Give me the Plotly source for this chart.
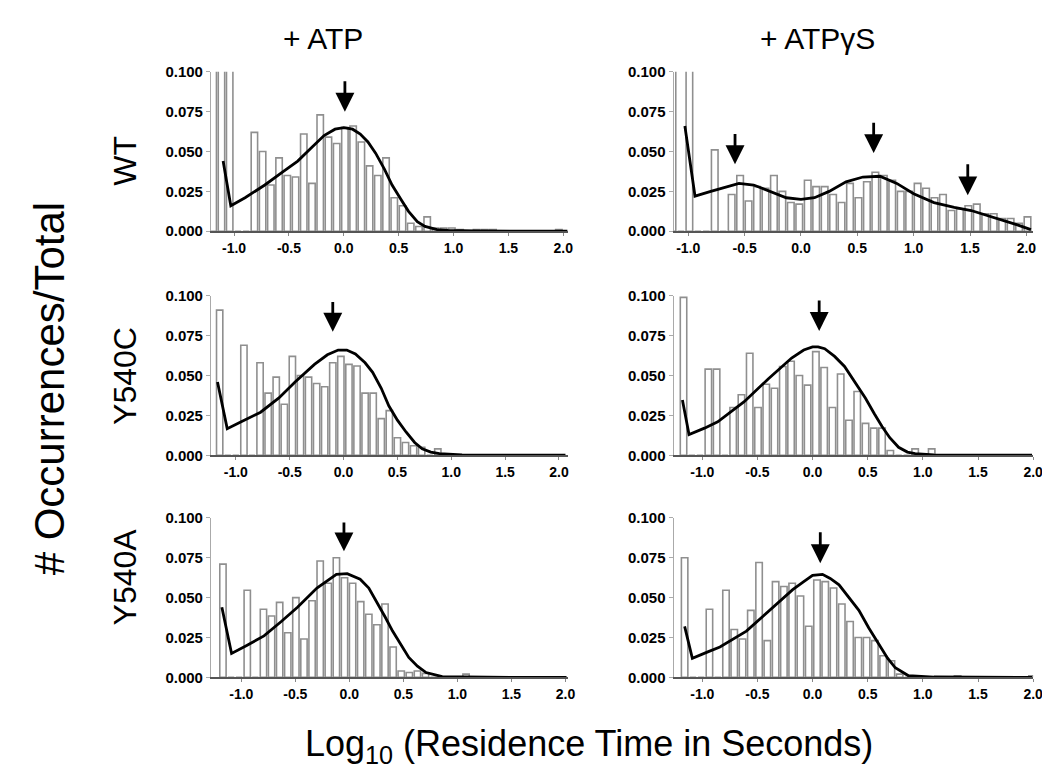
import plotly.graph_objects as go

# ---------------- data ----------------
bin_width = 0.075
panel_ids = ["A", "B", "C", "D", "E", "F"]   # A=WT/ATP, B=WT/ATPgS, C=Y540C/ATP, D=Y540C/ATPgS, E=Y540A/ATP, F=Y540A/ATPgS

bin_start = {"A": -1.19, "B": -1.14, "C": -1.15, "D": -1.17, "E": -1.17, "F": -1.16}

bars_A = [0.12, 0.12, 0.12, 0, 0,
          0.062, 0.050, 0.029, 0.046, 0.035, 0.034, 0.061, 0.030, 0.073, 0.059,
          0.055, 0.065, 0.066, 0.056, 0.041, 0.035, 0.046, 0.021, 0.016,
          0.005, 0.003, 0.009, 0.002, 0.002, 0.002, 0.001, 0, 0.001, 0.001, 0.001,
          0, 0, 0, 0, 0, 0, 0, 0.001]
bars_B = [0.12, 0, 0.12, 0, 0, 0.051, 0, 0.023, 0.035, 0.019, 0.028, 0.027, 0.035,
          0.025, 0.018, 0.017, 0.032, 0.028, 0.028, 0.023, 0.018, 0.030, 0.021,
          0.031, 0.037, 0.035, 0.032, 0.025, 0.025, 0.030, 0.027, 0.021, 0.023,
          0.013, 0.014, 0.016, 0.017, 0.011, 0.011, 0.008, 0.008, 0.005, 0.009]
bars_C = [0.091, 0, 0, 0.069, 0, 0.058, 0.039, 0.049, 0.032, 0.062, 0.050, 0.049,
          0.045, 0.043, 0.058, 0.062, 0.057, 0.056, 0.039, 0.039, 0.023, 0.028,
          0.011, 0.008, 0.006, 0.005, 0, 0.004]
bars_D = [0.099, 0, 0, 0.054, 0.054, 0, 0.030, 0.038, 0.064, 0.030, 0.0445, 0.042,
          0.0557, 0.059, 0.050, 0.044, 0.065, 0.055, 0.030, 0.051, 0.022, 0.040,
          0.020, 0.017, 0.017, 0.003, 0, 0, 0.004, 0, 0.004]
bars_E = [0.071, 0, 0, 0.0546, 0, 0.0427, 0.0385, 0.047, 0.028, 0.050, 0.024, 0.048,
          0.073, 0.059, 0.075, 0.0625, 0.059, 0.0475, 0.0396, 0.033, 0.046, 0.019,
          0.004, 0.003, 0.004, 0.0025, 0, 0, 0, 0, 0.002]
bars_F = [0.075, 0, 0, 0.0427, 0, 0.0546, 0.030, 0.024, 0.042, 0.072, 0.023, 0.060,
          0.057, 0.059, 0.051, 0.032, 0.061, 0.060, 0.056, 0.046, 0.035, 0.025,
          0.025, 0.023, 0.0135, 0.0104, 0.002, 0, 0, 0, 0, 0, 0, 0.001,
          0, 0, 0, 0, 0, 0, 0, 0, 0.001]

fit_x_A = [-1.10, -1.03, -0.9, -0.72, -0.55, -0.42, -0.3, -0.18, -0.08, 0.0, 0.08, 0.15,
           0.22, 0.29, 0.37, 0.44, 0.52, 0.59, 0.67, 0.74, 0.85, 0.95, 1.2, 1.6, 2.04]
fit_y_A = [0.044, 0.016, 0.021, 0.029, 0.0375, 0.044, 0.052, 0.060, 0.064, 0.065, 0.064,
           0.061, 0.056, 0.049, 0.039, 0.029, 0.020, 0.0125, 0.006, 0.003, 0.001, 0.0005,
           0.0002, 0.0, 0.0]
fit_x_B = [-1.03, -0.94, -0.8, -0.65, -0.55, -0.42, -0.28, -0.13, 0.0, 0.12, 0.25, 0.4,
           0.55, 0.7, 0.85, 1.0, 1.18, 1.36, 1.51, 1.65, 1.8, 1.92, 2.04]
fit_y_B = [0.066, 0.022, 0.025, 0.028, 0.030, 0.029, 0.025, 0.021, 0.020, 0.021, 0.025,
           0.031, 0.034, 0.0345, 0.030, 0.0235, 0.018, 0.015, 0.013, 0.010, 0.007, 0.004,
           0.001]
fit_x_C = [-1.17, -1.08, -0.95, -0.77, -0.6, -0.45, -0.27, -0.15, -0.05, 0.03, 0.11, 0.2,
           0.27, 0.35, 0.42, 0.5, 0.58, 0.66, 0.73, 0.81, 0.89, 1.1, 1.5, 2.06]
fit_y_C = [0.046, 0.0167, 0.021, 0.027, 0.036, 0.046, 0.057, 0.063, 0.066, 0.066, 0.0635,
           0.058, 0.052, 0.042, 0.031, 0.022, 0.0146, 0.008, 0.004, 0.002, 0.001, 0.0003,
           0.0, 0.0]
fit_x_D = [-1.18, -1.12, -0.98, -0.86, -0.62, -0.4, -0.19, -0.08, 0.0, 0.05, 0.11, 0.2,
           0.29, 0.38, 0.48, 0.56, 0.63, 0.7, 0.78, 0.86, 0.93, 1.1, 1.5, 1.99]
fit_y_D = [0.0347, 0.013, 0.017, 0.021, 0.0336, 0.048, 0.061, 0.066, 0.068, 0.068, 0.0668,
           0.062, 0.0557, 0.046, 0.0357, 0.026, 0.018, 0.011, 0.005, 0.002, 0.001, 0.0002,
           0.0, 0.0]
fit_x_E = [-1.18, -1.09, -0.95, -0.79, -0.63, -0.48, -0.3, -0.2, -0.12, -0.02, 0.1, 0.18,
           0.25, 0.33, 0.4, 0.48, 0.55, 0.63, 0.71, 0.86, 1.1, 1.5, 2.01]
fit_y_E = [0.044, 0.015, 0.020, 0.026, 0.035, 0.044, 0.056, 0.061, 0.0646, 0.065, 0.0615,
           0.056, 0.048, 0.038, 0.029, 0.020, 0.0125, 0.007, 0.003, 0.0004, 0.0001, 0.0, 0.0]
fit_x_F = [-1.16, -1.09, -0.95, -0.84, -0.6, -0.39, -0.18, -0.08, 0.0, 0.09, 0.16, 0.24,
           0.33, 0.42, 0.51, 0.6, 0.68, 0.75, 0.87, 1.1, 1.5, 1.99]
fit_y_F = [0.032, 0.012, 0.016, 0.019, 0.029, 0.042, 0.055, 0.060, 0.064, 0.0646, 0.062,
           0.058, 0.050, 0.042, 0.031, 0.021, 0.012, 0.006, 0.001, 0.0002, 0.0, 0.0]

# arrows: (x, tip y, tail y)
arrows = {
    "A": [(0.01, 0.075, 0.095)],
    "B": [(-0.585, 0.042, 0.062), (0.645, 0.049, 0.069), (1.48, 0.0225, 0.043)],
    "C": [(-0.10, 0.0775, 0.097)],
    "D": [(0.06, 0.078, 0.098)],
    "E": [(-0.05, 0.079, 0.098)],
    "F": [(0.07, 0.0716, 0.092)],
}

x_ranges = {"A": [-1.21, 2.04], "B": [-1.13, 2.06], "C": [-1.23, 2.08],
            "D": [-1.26, 2.0], "E": [-1.28, 2.02], "F": [-1.26, 2.0]}

x_ticks = [-1.0, -0.5, 0.0, 0.5, 1.0, 1.5, 2.0]
x_tick_text = ["-1.0", "-0.5", "0.0", "0.5", "1.0", "1.5", "2.0"]
y_ticks = [0.0, 0.025, 0.05, 0.075, 0.1]
y_tick_text = ["0.000", "0.025", "0.050", "0.075", "0.100"]

col_titles = ["+ ATP", "+ ATPγS"]
row_labels = ["WT", "Y540C", "Y540A"]
y_title = "# Occurrences/Total"
x_title = "Log<sub>10</sub> (Residence Time in Seconds)"

bars = {"A": bars_A, "B": bars_B, "C": bars_C, "D": bars_D, "E": bars_E, "F": bars_F}
fits = {"A": (fit_x_A, fit_y_A), "B": (fit_x_B, fit_y_B), "C": (fit_x_C, fit_y_C),
        "D": (fit_x_D, fit_y_D), "E": (fit_x_E, fit_y_E), "F": (fit_x_F, fit_y_F)}

# ---------------- layout geometry ----------------
W, H = 1050, 783
col_px = [(205, 565), (672, 1035)]
row_px = [(56, 219), (285, 448), (512, 675)]   # (top = 0.100, bottom = 0.000)

FONT = "Liberation Sans, Arial, sans-serif"

fig = go.Figure()
layout = dict(width=W, height=H, margin=dict(l=0, r=0, t=0, b=0),
              paper_bgcolor="white", plot_bgcolor="white", showlegend=False,
              bargap=0.2, annotations=[])

for i, pid in enumerate(panel_ids):
    r, c = divmod(i, 2)
    n = i + 1
    xa = "x" if n == 1 else f"x{n}"
    ya = "y" if n == 1 else f"y{n}"
    xkey = "xaxis" if n == 1 else f"xaxis{n}"
    ykey = "yaxis" if n == 1 else f"yaxis{n}"

    vals = bars[pid]
    centers = [bin_start[pid] + k * bin_width for k in range(len(vals))]
    fig.add_trace(go.Bar(x=centers, y=vals, width=bin_width * 0.78,
                         marker=dict(color="white", line=dict(color="#8f8f8f", width=1.6)),
                         xaxis=xa, yaxis=ya, hoverinfo="skip"))
    fx, fy = fits[pid]
    fig.add_trace(go.Scatter(x=fx, y=fy, mode="lines",
                             line=dict(color="black", width=2.8),
                             xaxis=xa, yaxis=ya, hoverinfo="skip", cliponaxis=False))

    x0, x1 = col_px[c]
    ytop, ybot = row_px[r]
    layout[xkey] = dict(domain=[x0 / W, x1 / W], range=x_ranges[pid], anchor=ya,
                        tickvals=x_ticks, ticktext=x_tick_text,
                        tickfont=dict(family=FONT, size=14, color="black", weight="bold"),
                        showline=True, linecolor="#555555", linewidth=2,
                        ticks="outside", ticklen=3, tickcolor="#888888",
                        showgrid=False, zeroline=False, fixedrange=True)
    layout[ykey] = dict(domain=[1 - ybot / H, 1 - ytop / H], range=[0, 0.1], anchor=xa,
                        tickvals=y_ticks, ticktext=y_tick_text,
                        tickfont=dict(family=FONT, size=15, color="black", weight="bold"),
                        showline=True, linecolor="#aaaaaa", linewidth=1.2,
                        ticks="outside", ticklen=4, tickcolor="#aaaaaa",
                        showgrid=False, zeroline=False, fixedrange=True)

    for (ax_x, tip, tail) in arrows[pid]:
        layout["annotations"].append(dict(
            x=ax_x, y=tip, ax=ax_x, ay=tail, xref=xa, yref=ya, axref=xa, ayref=ya,
            text="", showarrow=True, arrowhead=2, arrowsize=1.35, arrowwidth=2.8,
            arrowcolor="black"))

# column titles
for c, t in enumerate(col_titles):
    cx = [318, 817][c]
    layout["annotations"].append(dict(
        x=cx / W, y=1 - 22 / H, xref="paper", yref="paper", text=t, showarrow=False,
        font=dict(family=FONT, size=30, color="black"), xanchor="center", yanchor="middle"))

# row labels
for r, t in enumerate(row_labels):
    cy = [147, 367, 572][r]
    layout["annotations"].append(dict(
        x=118 / W, y=1 - cy / H, xref="paper", yref="paper", text=t, showarrow=False,
        textangle=-90, font=dict(family=FONT, size=32, color="black"),
        xanchor="center", yanchor="middle"))

layout["annotations"].append(dict(
    x=42 / W, y=1 - 380 / H, xref="paper", yref="paper", text=y_title, showarrow=False,
    textangle=-90, font=dict(family=FONT, size=42, color="black"),
    xanchor="center", yanchor="middle"))

layout["annotations"].append(dict(
    x=587 / W, y=1 - 745 / H, xref="paper", yref="paper", text=x_title, showarrow=False,
    font=dict(family=FONT, size=36, color="black"), xanchor="center", yanchor="middle"))

fig.update_layout(**layout)
fig.write_html("out.html")
